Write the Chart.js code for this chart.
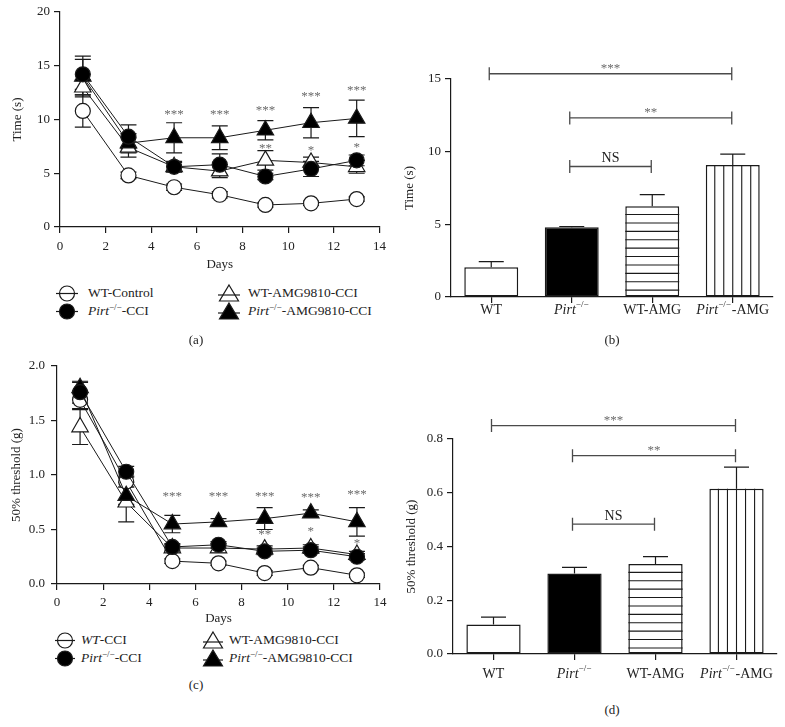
<!DOCTYPE html>
<html><head><meta charset="utf-8">
<script src="https://cdn.jsdelivr.net/npm/chart.js@4.4.1/dist/chart.umd.min.js"></script>
<style>
html,body{margin:0;padding:0;background:#fff;}
body{width:785px;height:727px;position:relative;overflow:hidden;font-family:"Liberation Serif","Times New Roman",serif;color:#222;}
canvas{position:absolute;}
.lg{position:absolute;font-size:13.5px;white-space:nowrap;line-height:16px;height:16px;}
.mk{position:absolute;}
.cap{position:absolute;font-size:13px;transform:translate(-50%,-50%);white-space:nowrap;}
i{font-style:italic;}
sup{font-size:9px;vertical-align:5px;line-height:0;}
</style></head><body>
<canvas id="ca" style="left:0;top:0;width:392px;height:275px" width="392" height="275"></canvas>
<canvas id="cb" style="left:392px;top:40px;width:393px;height:285px" width="393" height="285"></canvas>
<canvas id="cc" style="left:0;top:340px;width:392px;height:290px" width="392" height="290"></canvas>
<canvas id="cd" style="left:392px;top:400px;width:393px;height:300px" width="393" height="300"></canvas>

<!-- legend (a) -->
<svg class="mk" style="left:55px;top:284px" width="24" height="19"><line x1="1" y1="9.5" x2="23" y2="9.5" stroke="#1a1a1a" stroke-width="1.2"/><circle cx="12" cy="9.5" r="7.5" fill="none" stroke="#1a1a1a" stroke-width="1.2"/></svg>
<div class="lg" style="left:88px;top:285px">WT-Control</div>
<svg class="mk" style="left:55px;top:302px" width="24" height="19"><line x1="1" y1="9.5" x2="23" y2="9.5" stroke="#1a1a1a" stroke-width="1.2"/><circle cx="12" cy="9.5" r="7.5" fill="#000" stroke="#1a1a1a" stroke-width="1.2"/></svg>
<div class="lg" style="left:88px;top:303px"><i>Pirt</i><sup>−/−</sup>-CCI</div>
<svg class="mk" style="left:217px;top:283px" width="24" height="20"><line x1="1" y1="12" x2="23" y2="12" stroke="#1a1a1a" stroke-width="1.2"/><polygon points="12,2 21.5,18 2.5,18" fill="none" stroke="#1a1a1a" stroke-width="1.2"/></svg>
<div class="lg" style="left:248px;top:285px">WT-AMG9810-CCI</div>
<svg class="mk" style="left:217px;top:301px" width="24" height="20"><line x1="1" y1="12" x2="23" y2="12" stroke="#1a1a1a" stroke-width="1.2"/><polygon points="12,2 21.5,18 2.5,18" fill="#000" stroke="#1a1a1a" stroke-width="1.2"/></svg>
<div class="lg" style="left:248px;top:303px"><i>Pirt</i><sup>−/−</sup>-AMG9810-CCI</div>
<div class="cap" style="left:196px;top:340px">(a)</div>
<div class="cap" style="left:612px;top:340px">(b)</div>

<!-- legend (c) -->
<svg class="mk" style="left:54px;top:631px" width="22" height="19"><line x1="1" y1="9.5" x2="21" y2="9.5" stroke="#1a1a1a" stroke-width="1.2"/><circle cx="11" cy="9.5" r="7.5" fill="none" stroke="#1a1a1a" stroke-width="1.2"/></svg>
<div class="lg" style="left:81px;top:632px"><i>WT</i>-CCI</div>
<svg class="mk" style="left:54px;top:649px" width="22" height="19"><line x1="1" y1="9.5" x2="21" y2="9.5" stroke="#1a1a1a" stroke-width="1.2"/><circle cx="11" cy="9.5" r="7.5" fill="#000" stroke="#1a1a1a" stroke-width="1.2"/></svg>
<div class="lg" style="left:81px;top:650px"><i>Pirt</i><sup>−/−</sup>-CCI</div>
<svg class="mk" style="left:202px;top:630px" width="22" height="20"><line x1="1" y1="12" x2="21" y2="12" stroke="#1a1a1a" stroke-width="1.2"/><polygon points="11,2 20.5,18 1.5,18" fill="none" stroke="#1a1a1a" stroke-width="1.2"/></svg>
<div class="lg" style="left:229px;top:632px">WT-AMG9810-CCI</div>
<svg class="mk" style="left:202px;top:648px" width="22" height="20"><line x1="1" y1="12" x2="21" y2="12" stroke="#1a1a1a" stroke-width="1.2"/><polygon points="11,2 20.5,18 1.5,18" fill="#000" stroke="#1a1a1a" stroke-width="1.2"/></svg>
<div class="lg" style="left:229px;top:650px"><i>Pirt</i><sup>−/−</sup>-AMG9810-CCI</div>
<div class="cap" style="left:196px;top:685px">(c)</div>
<div class="cap" style="left:612px;top:710px">(d)</div>

<script>
// ---------- data ----------
const days = [1, 3, 5, 7, 9, 11, 13];

// panel (a): Time (s)
const aWT        = [10.8, 4.8, 3.7, 3.0, 2.05, 2.2, 2.6];
const aWTErr     = [1.5, 0.3, 0.3, 0.3, 0.2, 0.2, 0.2];
const aPirt      = [14.2, 8.4, 5.6, 5.8, 4.7, 5.4, 6.2];
const aPirtErr   = [1.4, 1.1, 0.4, 1.0, 0.3, 0.7, 0.5];
const aWTAMG     = [13.0, 7.4, 5.6, 5.2, 6.2, 6.0, 5.6];
const aWTAMGErr  = [0.7, 0.9, 0.5, 0.6, 0.9, 0.5, 0.6];
const aPirtAMG   = [14.0, 7.8, 8.3, 8.3, 9.0, 9.7, 10.1];
const aPirtAMGErr= [1.9, 0.9, 1.4, 1.1, 0.9, 1.4, 1.7];
const aStarX  = [5, 7, 9, 11, 13];
const aStarY  = [10.7, 10.7, 11.1, 12.4, 12.9];
const aStarT  = ['***', '***', '***', '***', '***'];
const aStar2X = [9, 11, 13];
const aStar2Y = [7.5, 7.4, 7.6];
const aStar2T = ['**', '*', '*'];
const aXTicks = [0, 14, 2];
const aYTicks = [0, 20, 5];

// panel (c): 50% threshold (g)
const cWT        = [1.69, 0.94, 0.21, 0.19, 0.10, 0.15, 0.08];
const cWTErr     = [0.08, 0.05, 0.02, 0.02, 0.02, 0.02, 0.02];
const cPirt      = [1.76, 1.03, 0.34, 0.36, 0.30, 0.31, 0.25];
const cPirtErr   = [0.10, 0.05, 0.03, 0.03, 0.03, 0.03, 0.03];
const cWTAMG     = [1.44, 0.75, 0.33, 0.33, 0.32, 0.33, 0.27];
const cWTAMGErr  = [0.16, 0.18, 0.03, 0.04, 0.03, 0.03, 0.03];
const cPirtAMG   = [1.80, 0.81, 0.55, 0.57, 0.60, 0.65, 0.57];
const cPirtAMGErr= [0.05, 0.08, 0.08, 0.03, 0.10, 0.03, 0.13];
const cStarX  = [5, 7, 9, 11, 13];
const cStarY  = [0.83, 0.83, 0.83, 0.82, 0.845];
const cStarT  = ['***', '***', '***', '***', '***'];
const cStar2X = [9, 11, 13];
const cStar2Y = [0.48, 0.51, 0.40];
const cStar2T = ['**', '*', '*'];
const cYTicks = [0, 2.0, 0.5];

// panels (b) and (d)
const barCats = ['WT', 'Pirt−/−', 'WT-AMG', 'Pirt−/−-AMG'];
const bVals = [2.05, 4.8, 6.25, 9.08];
const bErr  = [0.38, 0.05, 0.8, 0.75];
const bBrFrom = [0, 1, 1];
const bBrTo   = [3, 3, 2];
const bBrY    = [15.36, 12.32, 8.98];
const bBrT    = ['***', '**', 'NS'];
const bYTicks = [0, 15, 5];

const dVals = [0.11, 0.30, 0.335, 0.615];
const dErr  = [0.027, 0.022, 0.027, 0.08];
const dBrFrom = [0, 1, 1];
const dBrTo   = [3, 3, 2];
const dBrY    = [0.85, 0.738, 0.483];
const dBrT    = ['***', '**', 'NS'];
const dYTicks = [0, 0.8, 0.2];

// ---------- styling ----------
const FONT = '"Liberation Serif","Times New Roman",serif';
const ink = '#1a1a1a';
Chart.defaults.font.family = FONT;
Chart.defaults.font.size = 13;
Chart.defaults.color = '#222';
Chart.defaults.animation = false;

function valOf(ds, i) { const d = ds.data[i]; return (d !== null && typeof d === 'object') ? d.y : d; }

const errorBars = {
  id: 'errorBars',
  beforeDatasetsDraw(chart, args, opts) {
    const ctx = chart.ctx, ys = chart.scales.y;
    ctx.save();
    ctx.strokeStyle = ink; ctx.lineWidth = 1.2;
    chart.data.datasets.forEach((ds, di) => {
      if (!ds.errors) return;
      const meta = chart.getDatasetMeta(di);
      meta.data.forEach((el, i) => {
        const v = valOf(ds, i), e = ds.errors[i];
        const x = el.x;
        const yT = ys.getPixelForValue(v + e);
        const yB = ys.getPixelForValue(opts.upOnly ? v : v - e);
        ctx.beginPath();
        ctx.moveTo(x, yT); ctx.lineTo(x, yB);
        ctx.moveTo(x - opts.cap, yT); ctx.lineTo(x + opts.cap, yT);
        if (!opts.upOnly) { ctx.moveTo(x - opts.cap, yB); ctx.lineTo(x + opts.cap, yB); }
        ctx.stroke();
      });
    });
    ctx.restore();
  }
};

function drawStar(ctx, t, x, y, size) {
  ctx.font = size + 'px ' + FONT;
  ctx.textAlign = 'center'; ctx.textBaseline = 'alphabetic';
  ctx.fillText(t, x, y + size * 0.47);
}

const starText = {
  id: 'starText',
  afterDatasetsDraw(chart, args, opts) {
    const ctx = chart.ctx, xs = chart.scales.x, ys = chart.scales.y;
    ctx.save(); ctx.fillStyle = '#6a6a6a';
    opts.items.forEach(it => drawStar(ctx, it.t, xs.getPixelForValue(it.x), ys.getPixelForValue(it.y), 13));
    ctx.restore();
  }
};

const brackets = {
  id: 'brackets',
  afterDraw(chart, args, opts) {
    const ctx = chart.ctx, xs = chart.scales.x, ys = chart.scales.y;
    ctx.save(); ctx.strokeStyle = '#4a4a4a'; ctx.lineWidth = 1.3;
    opts.items.forEach(b => {
      const x1 = xs.getPixelForValue(b.from) - 2, x2 = xs.getPixelForValue(b.to) - 1, y = ys.getPixelForValue(b.y);
      ctx.beginPath();
      ctx.moveTo(x1, y); ctx.lineTo(x2, y);
      ctx.moveTo(x1, y - 6.5); ctx.lineTo(x1, y + 6.5);
      ctx.moveTo(x2, y - 6.5); ctx.lineTo(x2, y + 6.5);
      ctx.stroke();
      const xm = (x1 + x2) / 2;
      if (b.t === 'NS') {
        ctx.fillStyle = '#222'; ctx.font = '14px ' + FONT;
        ctx.textAlign = 'center'; ctx.textBaseline = 'alphabetic';
        ctx.fillText('NS', xm, y - 4);
      } else {
        ctx.fillStyle = '#6a6a6a';
        drawStar(ctx, b.t, xm, y - 8, 13);
      }
    });
    ctx.restore();
  }
};

const stripes = {
  id: 'stripes',
  afterDatasetsDraw(chart, args, opts) {
    const ctx = chart.ctx, meta = chart.getDatasetMeta(0);
    ctx.save(); ctx.strokeStyle = ink; ctx.lineWidth = 1.1;
    meta.data.forEach((el, i) => {
      const kind = opts.kinds[i];
      if (!kind) return;
      const p = el.getProps(['x', 'y', 'base', 'width'], true);
      const l = p.x - p.width / 2, r = p.x + p.width / 2;
      ctx.beginPath();
      if (kind === 'h') {
        for (let yy = p.y + opts.hStep; yy < p.base - 2; yy += opts.hStep) { ctx.moveTo(l, yy); ctx.lineTo(r, yy); }
      } else {
        for (let k = 1; k < 6; k++) { const xx = l + p.width * k / 6; ctx.moveTo(xx, p.y); ctx.lineTo(xx, p.base); }
      }
      ctx.stroke();
    });
    ctx.restore();
  }
};

const richLabels = {
  id: 'richLabels',
  afterDraw(chart, args, opts) {
    const ctx = chart.ctx, xs = chart.scales.x;
    ctx.save(); ctx.fillStyle = '#222'; ctx.textBaseline = 'middle'; ctx.textAlign = 'left';
    barCats.forEach((lab, i) => {
      let segs;
      if (lab.startsWith('Pirt')) {
        segs = [['Pirt', 'italic 14px '], ['−/−', '9px '], [lab.slice(7), '14px ']];
      } else segs = [[lab, '14px ']];
      let w = 0;
      segs.forEach(s => { ctx.font = s[1] + FONT; w += ctx.measureText(s[0]).width + (s[0] === '−/−' ? 1 : 0); });
      let x = xs.getPixelForValue(i) - w / 2;
      const y = xs.top + opts.dy;
      segs.forEach(s => {
        ctx.font = s[1] + FONT;
        ctx.fillText(s[0], x, s[0] === '−/−' ? y - 5 : y);
        x += ctx.measureText(s[0]).width + (s[0] === '−/−' ? 1 : 0);
      });
    });
    ctx.restore();
  }
};

function tickGrid() {
  return { display: true, drawOnChartArea: false, drawTicks: true, tickLength: 6, color: ink, lineWidth: 1.2 };
}
const border = { display: true, color: ink, width: 1.2 };

function lineDs(vals, errs, style, fillCol) {
  return {
    data: days.map((d, i) => ({ x: d, y: vals[i] })),
    errors: errs,
    borderColor: ink, borderWidth: 1,
    pointStyle: style, pointRadius: style === 'triangle' ? 9.5 : 7.5,
    pointBackgroundColor: fillCol, pointBorderColor: ink, pointBorderWidth: 1.2,
    fill: false, tension: 0, clip: false
  };
}

function stars(xs, ys, ts) { return xs.map((x, i) => ({ x, y: ys[i], t: ts[i] })); }

function lineChart(id, sets, yT, yTitle, dec, starItems, geom) {
  return new Chart(document.getElementById(id), {
    type: 'line',
    data: { datasets: sets },
    plugins: [errorBars, starText],
    options: {
      responsive: false, maintainAspectRatio: false,
      layout: { padding: geom.pad },
      plugins: { legend: { display: false }, tooltip: { enabled: false },
        errorBars: { cap: 8, upOnly: false }, starText: { items: starItems } },
      scales: {
        x: { type: 'linear', min: aXTicks[0], max: aXTicks[1],
          ticks: { stepSize: aXTicks[2], padding: geom.xtp, font: { size: 13 } },
          grid: tickGrid(), border,
          title: { display: true, text: 'Days', padding: 0, font: { size: 13 } },
          afterFit(s) { s.height = geom.xh; } },
        y: { min: yT[0], max: yT[1],
          ticks: { stepSize: yT[2], padding: geom.ytp, font: { size: 13 },
            callback: v => dec ? Number(v).toFixed(dec) : v },
          grid: tickGrid(), border,
          title: { display: true, text: yTitle, padding: 0, font: { size: 13 } },
          afterFit(s) { s.width = geom.yw; } }
      }
    }
  });
}

function barChart(id, vals, errs, yT, yTitle, dec, brItems, geom) {
  return new Chart(document.getElementById(id), {
    type: 'bar',
    data: { labels: barCats, datasets: [{
      data: vals, errors: errs,
      backgroundColor: ['#ffffff', '#000000', '#ffffff', '#ffffff'],
      borderColor: ink, borderWidth: 1.5, borderSkipped: false,
      barPercentage: 0.67, categoryPercentage: 1
    }] },
    plugins: [stripes, errorBars, brackets, richLabels],
    options: {
      responsive: false, maintainAspectRatio: false,
      layout: { padding: geom.pad },
      plugins: { legend: { display: false }, tooltip: { enabled: false },
        errorBars: { cap: 12.5, upOnly: true },
        stripes: { kinds: ['', '', 'h', 'v'], hStep: 8.4 },
        brackets: { items: brItems },
        richLabels: { dy: geom.ldy } },
      scales: {
        x: { type: 'category', offset: true,
          grid: Object.assign(tickGrid(), { offset: false }), border,
          ticks: { display: false },
          afterFit(s) { s.height = geom.xh; } },
        y: { min: yT[0], max: yT[1],
          ticks: { stepSize: yT[2], padding: geom.ytp, font: { size: 13 },
            callback: v => dec ? Number(v).toFixed(dec) : v },
          grid: tickGrid(), border,
          title: { display: true, text: yTitle, padding: 0, font: { size: 13 } },
          afterFit(s) { s.width = geom.yw; } }
      }
    }
  });
}

// (a)
lineChart('ca', [
  lineDs(aPirt, aPirtErr, 'circle', '#000'),
  lineDs(aPirtAMG, aPirtAMGErr, 'triangle', '#000'),
  lineDs(aWTAMG, aWTAMGErr, 'triangle', '#fff'),
  lineDs(aWT, aWTErr, 'circle', '#fff')
], aYTicks, 'Time (s)', 0,
  stars(aStarX, aStarY, aStarT).concat(stars(aStar2X, aStar2Y, aStar2T)),
  { pad: { left: 10, right: 9, top: 12, bottom: 3 }, yw: 50, xh: 45, xtp: 6, ytp: 4 });

// (c)
lineChart('cc', [
  lineDs(cPirt, cPirtErr, 'circle', '#000'),
  lineDs(cPirtAMG, cPirtAMGErr, 'triangle', '#000'),
  lineDs(cWTAMG, cWTAMGErr, 'triangle', '#fff'),
  lineDs(cWT, cWTErr, 'circle', '#fff')
], cYTicks, '50% threshold (g)', 1,
  stars(cStarX, cStarY, cStarT).concat(stars(cStar2X, cStar2Y, cStar2T)),
  { pad: { left: 9, right: 12, top: 26, bottom: 4 }, yw: 48, xh: 42, xtp: 5, ytp: 6 });

// (b)
barChart('cb', bVals, bErr, bYTicks, 'Time (s)', 0,
  bBrFrom.map((f, i) => ({ from: f, to: bBrTo[i], y: bBrY[i], t: bBrT[i] })),
  { pad: { left: 10, right: 12, top: 39, bottom: 3 }, yw: 49, xh: 25, ytp: 4, ldy: 13 });

// (d)
barChart('cd', dVals, dErr, dYTicks, '50% threshold (g)', 1,
  dBrFrom.map((f, i) => ({ from: f, to: dBrTo[i], y: dBrY[i], t: dBrT[i] })),
  { pad: { left: 12, right: 8, top: 39, bottom: 16 }, yw: 49, xh: 30, ytp: 4, ldy: 20 });
</script>
</body></html>
